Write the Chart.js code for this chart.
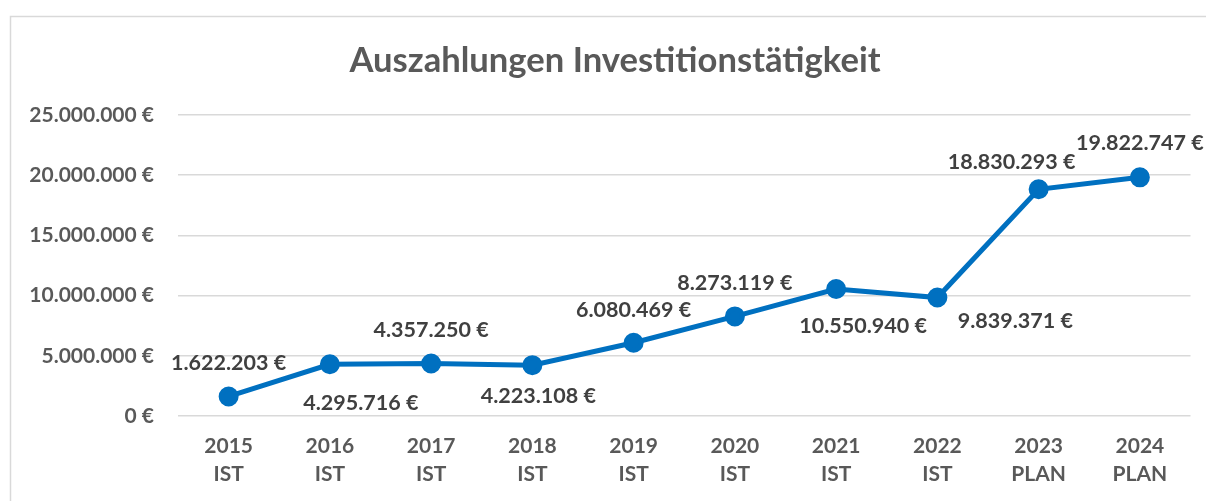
<!DOCTYPE html>
<html>
<head>
<meta charset="utf-8">
<script src="https://cdn.jsdelivr.net/npm/chart.js@4"></script>
<style>
html,body{margin:0;padding:0;background:#fff;}
#wrap{position:relative;width:1206px;height:501px;}
canvas{display:block;}
</style>
</head>
<body>
<div id="wrap"><canvas id="c" width="1206" height="501"></canvas></div>
<script>
const years = ['2015','2016','2017','2018','2019','2020','2021','2022','2023','2024'];
const kinds = ['IST','IST','IST','IST','IST','IST','IST','IST','PLAN','PLAN'];
const values = [1622203, 4295716, 4357250, 4223108, 6080469, 8273119, 10550940, 9839371, 18830293, 19822747];
const yTicks = [0, 5000000, 10000000, 15000000, 20000000, 25000000];
const titleText = 'Auszahlungen Investitionstätigkeit';

const FONT = 'Lato, "Open Sans", sans-serif';
const fmt = v => v.toLocaleString('de-DE') + ' €';

// label offsets relative to each point (layout only)
const labelOffsets = [[0,-33],[31,39],[0,-33],[6,31],[0,-33],[0,-33],[27,37],[78,24],[-27,-27],[0,-34]];

const decorPlugin = {
  id: 'decor',
  beforeDraw(chart) {
    const ctx = chart.ctx;
    ctx.save();
    ctx.fillStyle = '#fff';
    ctx.fillRect(0,0,chart.width,chart.height);
    ctx.strokeStyle = '#d9d9d9';
    ctx.lineWidth = 1.5;
    ctx.strokeRect(10.5, 16.5, 1300, 600);
    ctx.fillStyle = '#595959';
    ctx.font = 'bold 34.6px ' + FONT;
    ctx.textAlign = 'center';
    ctx.textBaseline = 'middle';
    ctx.fillText(titleText, 615, 61);
    ctx.restore();
  },
  afterDatasetsDraw(chart) {
    const ctx = chart.ctx;
    const meta = chart.getDatasetMeta(0);
    ctx.save();
    ctx.fillStyle = '#404040';
    ctx.font = 'bold 21.5px ' + FONT;
    ctx.textAlign = 'center';
    ctx.textBaseline = 'middle';
    meta.data.forEach((pt, i) => {
      const o = labelOffsets[i];
      ctx.fillText(fmt(values[i]), pt.x + o[0], pt.y + o[1]);
    });
    ctx.restore();
  }
};

new Chart(document.getElementById('c'), {
  type: 'line',
  data: {
    labels: years.map((y,i) => [y, kinds[i]]),
    datasets: [{
      data: values,
      borderColor: '#0070C0',
      backgroundColor: '#0070C0',
      borderWidth: 5,
      pointRadius: 7.5,
      pointHoverRadius: 7.5,
      pointBackgroundColor: '#0070C0',
      pointBorderColor: '#0070C0',
      tension: 0
    }]
  },
  options: {
    responsive: false,
    animation: false,
    events: [],
    layout: { padding: { left: 0, right: 15.5, top: 115, bottom: 0 } },
    plugins: { legend: { display: false }, title: { display: false }, tooltip: { enabled: false } },
    scales: {
      x: {
        offset: true,
        grid: { display: false, drawTicks: false },
        border: { display: false },
        ticks: { color: '#595959', font: { family: FONT, size: 21, weight: 'bold', lineHeight: 1.33 }, padding: 16, maxRotation: 0 },
        afterFit(s) { s.height = 85; }
      },
      y: {
        min: 0, max: 25000000,
        afterBuildTicks(s) { s.ticks = yTicks.map(v => ({ value: v })); },
        grid: { color: '#d9d9d9', lineWidth: 1.5, drawTicks: false },
        border: { display: false },
        ticks: { color: '#595959', font: { family: FONT, size: 21, weight: 'bold' }, padding: 24, callback: v => fmt(v) },
        afterFit(s) { s.width = 178; }
      }
    }
  },
  plugins: [decorPlugin]
});
</script>
</body>
</html>
